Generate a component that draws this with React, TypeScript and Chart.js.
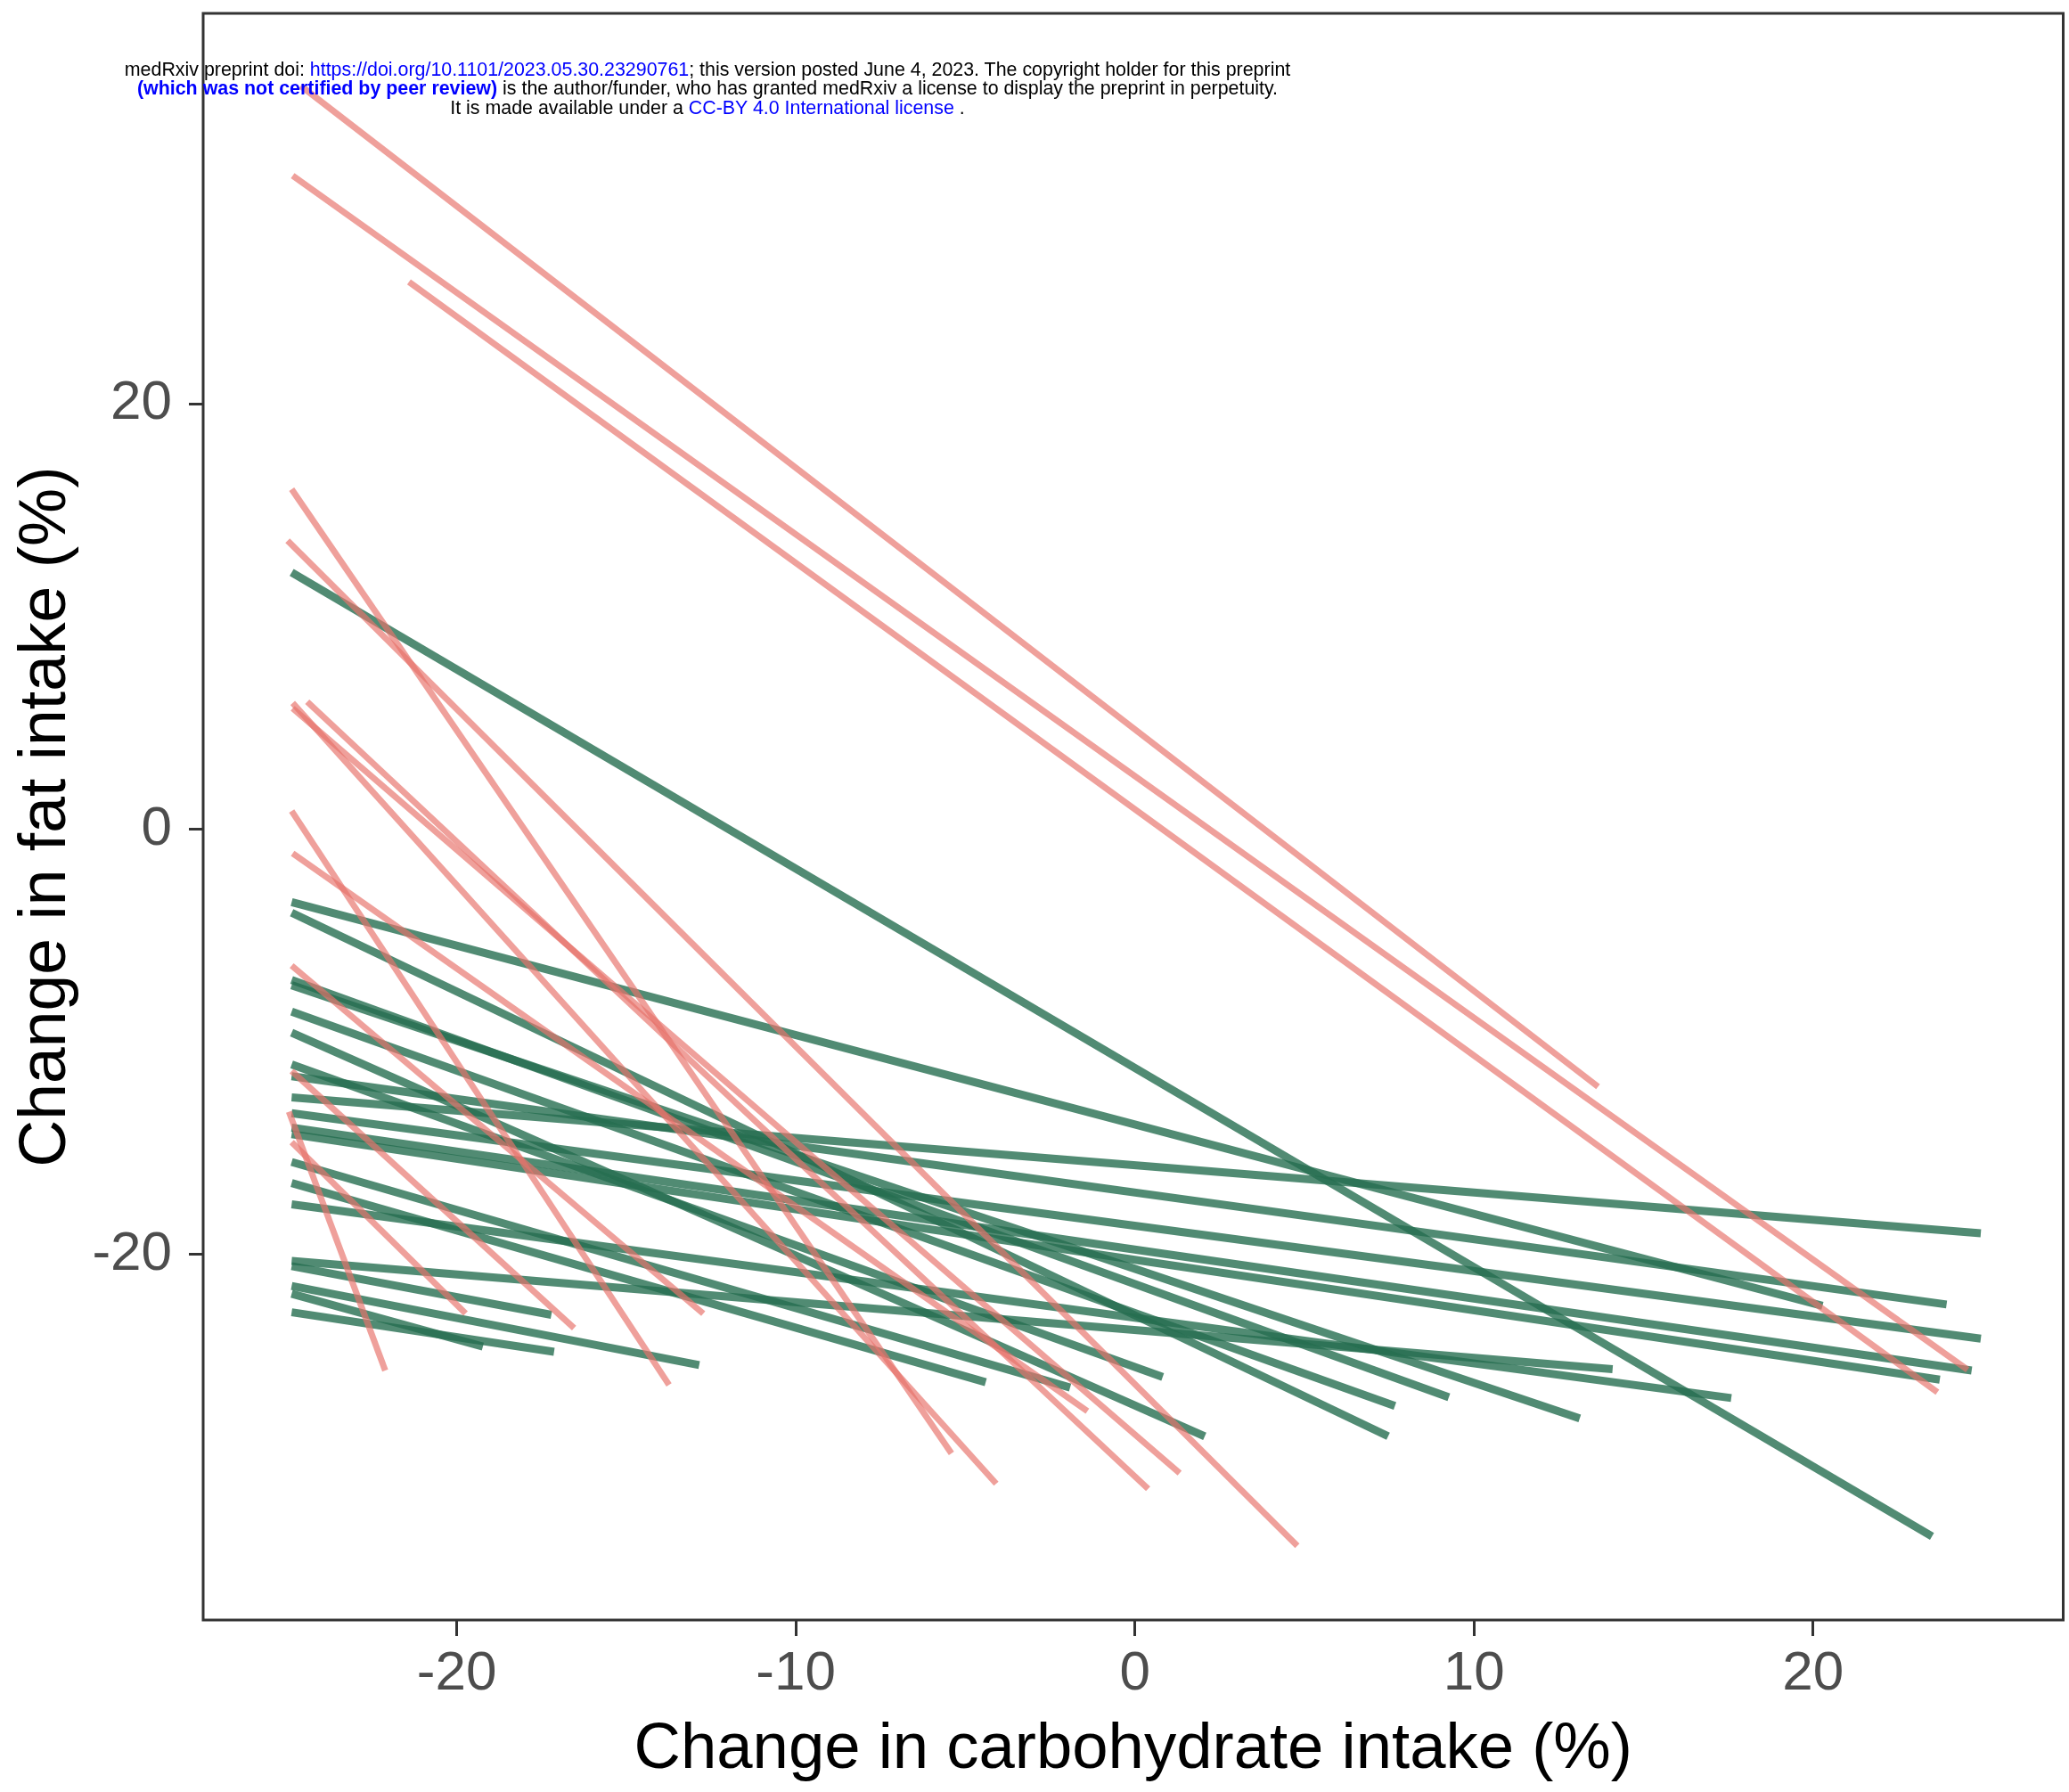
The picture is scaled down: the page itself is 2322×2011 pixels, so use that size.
import React, { useEffect, useRef } from "react";
import { Chart, registerables } from "chart.js";

Chart.register(...registerables);

// ---- axis ticks ----
const xTicks = [-20, -10, 0, 10, 20];
const yTicks = [-20, 0, 20];

// ---- pink group (start / end of each regression line) ----
const pinkCarbStart = [-24.6, -24.84, -21.41, -24.87, -24.99, -24.84, -24.41, -24.84, -24.87, -24.84, -24.87, -24.87, -24.95, -24.87];
const pinkFatStart = [34.96, 30.74, 25.74, 15.99, 13.57, 5.94, 6.0, 5.69, 0.86, -1.13, -6.41, -11.36, -13.28, -14.71];
const pinkCarbEnd = [13.66, 24.56, 23.67, -5.41, 4.79, -4.09, 0.39, 1.32, -13.74, -1.4, -12.73, -16.54, -22.11, -19.74];
const pinkFatEnd = [-12.1, -25.41, -26.47, -29.34, -33.69, -30.77, -31.01, -30.27, -26.12, -27.36, -22.77, -23.45, -25.45, -22.77];

// ---- green group ----
const greenCarbStart = [-24.87, -24.87, -24.87, -24.87, -24.87, -24.87, -24.87, -24.87, -24.87, -24.87, -24.87, -24.87, -24.87, -24.87, -24.87, -24.87, -24.87, -24.87, -24.87, -24.87, -24.87];
const greenFatStart = [12.08, -3.42, -3.92, -7.08, -7.33, -8.57, -9.56, -11.05, -11.61, -12.6, -13.35, -14.03, -14.34, -15.64, -16.63, -17.63, -20.29, -21.47, -22.71, -20.54, -21.84];
const greenCarbEnd = [23.51, 20.28, 7.47, 9.26, 13.12, 7.67, 2.06, 0.82, 23.94, 24.95, 24.95, 24.68, 23.74, -1.91, -4.4, 17.59, 14.09, -12.85, -17.13, -17.21, -19.23];
const greenFatEnd = [-33.25, -22.4, -28.54, -26.7, -27.7, -27.11, -28.54, -25.75, -22.34, -18.99, -23.95, -25.45, -25.88, -26.25, -26.0, -26.74, -25.38, -25.19, -24.57, -22.83, -24.32];

const X_MIN = -27.48;
const X_MAX = 27.38;
const Y_MIN = -37.18;
const Y_MAX = 38.37;

const FONT = "'Liberation Sans', Arial, sans-serif";
const PINK = "rgba(232,115,108,0.68)";
const GREEN = "rgba(38,110,80,0.8)";

const framePlugin = {
  id: "frame",
  afterDatasetsDraw(chart: any) {
    const { ctx, chartArea: a } = chart;
    ctx.save();
    ctx.strokeStyle = "#333333";
    ctx.lineWidth = 3;
    ctx.strokeRect(a.left, a.top, a.right - a.left, a.bottom - a.top);
    ctx.restore();
  },
};

function buildDatasets() {
  const sets: any[] = [];
  pinkCarbStart.forEach((_, i) => {
    sets.push({
      data: [
        { x: pinkCarbStart[i], y: pinkFatStart[i] },
        { x: pinkCarbEnd[i], y: pinkFatEnd[i] },
      ],
      borderColor: PINK,
      borderWidth: 7,
      pointRadius: 0,
      fill: false,
      order: 0,
    });
  });
  greenCarbStart.forEach((_, i) => {
    sets.push({
      data: [
        { x: greenCarbStart[i], y: greenFatStart[i] },
        { x: greenCarbEnd[i], y: greenFatEnd[i] },
      ],
      borderColor: GREEN,
      borderWidth: 9,
      pointRadius: 0,
      fill: false,
      order: 1,
    });
  });
  return sets;
}

export default function App() {
  const ref = useRef<HTMLCanvasElement | null>(null);

  useEffect(() => {
    if (!ref.current) return;
    const chart = new Chart(ref.current, {
      type: "line",
      data: { datasets: buildDatasets() },
      options: {
        animation: false,
        responsive: false,
        devicePixelRatio: 1,
        layout: { padding: { left: 0, top: 15, right: 6.5, bottom: 0 } },
        plugins: { legend: { display: false }, tooltip: { enabled: false } },
        elements: { line: { tension: 0 } },
        scales: {
          x: {
            type: "linear",
            min: X_MIN,
            max: X_MAX,
            afterBuildTicks: (s: any) => {
              s.ticks = xTicks.map((v) => ({ value: v }));
            },
            afterFit: (s: any) => {
              s.height = 193;
              s.paddingLeft = 0;
              s.paddingRight = 0;
            },
            ticks: {
              font: { family: FONT, size: 62 },
              color: "#4d4d4d",
              padding: 6,
              maxRotation: 0,
              autoSkip: false,
            },
            grid: {
              drawOnChartArea: false,
              drawTicks: true,
              tickLength: 18,
              color: "#333333",
              lineWidth: 3,
            },
            border: { display: false },
            title: {
              display: true,
              text: "Change in carbohydrate intake (%)",
              font: { family: FONT, size: 72.5 },
              color: "#000000",
              padding: { top: 0, bottom: 4 },
            },
          },
          y: {
            type: "linear",
            min: Y_MIN,
            max: Y_MAX,
            afterBuildTicks: (s: any) => {
              s.ticks = yTicks.map((v) => ({ value: v }));
            },
            afterFit: (s: any) => {
              s.width = 228;
              s.paddingTop = 0;
              s.paddingBottom = 0;
            },
            ticks: {
              font: { family: FONT, size: 62 },
              color: "#4d4d4d",
              padding: 19,
              autoSkip: false,
            },
            grid: {
              drawOnChartArea: false,
              drawTicks: true,
              tickLength: 16,
              color: "#333333",
              lineWidth: 3,
            },
            border: { display: false },
            title: {
              display: true,
              text: "Change in fat intake (%)",
              font: { family: FONT, size: 73.3 },
              color: "#000000",
              padding: { top: 9, bottom: 0 },
            },
          },
        },
      },
      plugins: [framePlugin],
    } as any);
    return () => chart.destroy();
  }, []);

  const wm: React.CSSProperties = {
    position: "absolute",
    left: 0,
    width: 1588,
    textAlign: "center",
    fontFamily: FONT,
    fontSize: 21.4,
    lineHeight: "22px",
    color: "#000",
    whiteSpace: "nowrap",
  };
  const blue: React.CSSProperties = { color: "#0000ff" };

  return (
    <div style={{ position: "absolute", left: 0, top: 0, width: 2322, height: 2011, background: "#ffffff" }}>
      <canvas ref={ref} width={2322} height={2011} style={{ width: 2322, height: 2011, display: "block" }} />
      <div style={{ ...wm, top: 67 }}>
        medRxiv preprint doi: <span style={blue}>https://doi.org/10.1101/2023.05.30.23290761</span>; this version posted June 4, 2023. The copyright holder for this preprint
      </div>
      <div style={{ ...wm, top: 88 }}>
        <span style={{ ...blue, fontWeight: "bold" }}>(which was not certified by peer review)</span> is the author/funder, who has granted medRxiv a license to display the preprint in perpetuity.
      </div>
      <div style={{ ...wm, top: 110 }}>
        It is made available under a <span style={blue}>CC-BY 4.0 International license</span> .
      </div>
    </div>
  );
}
